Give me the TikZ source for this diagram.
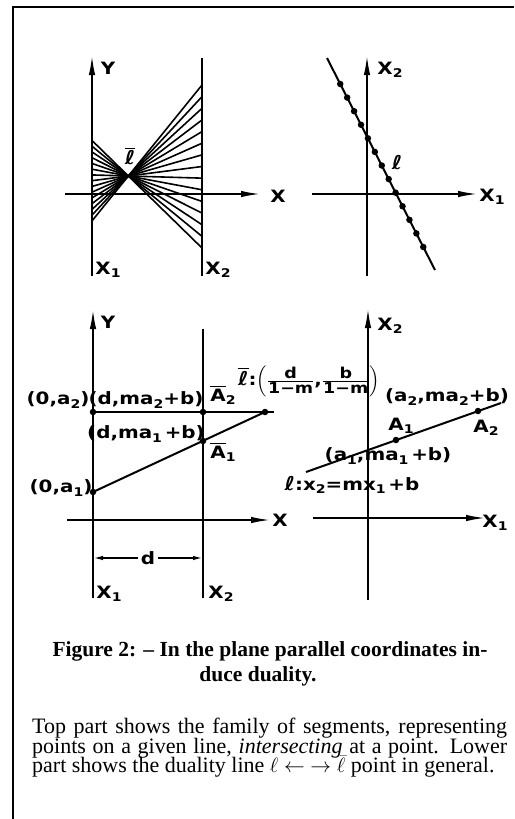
\documentclass[tikz,border=0pt]{standalone}
\usepackage{amsmath}
\usepackage{fontspec}
\usetikzlibrary{arrows.meta}
\setmainfont{Liberation Serif}
\newfontfamily\labf[FakeStretch=1.17]{DejaVu Sans}
\newcommand\lab{\labf\bfseries\fontsize{17}{19}\selectfont}
\newcommand\lo[1]{\raisebox{-0.35ex}{\fontsize{12}{13}\selectfont #1}}
\newcommand\lbar{$\overline{\hbox{ℓ}}$}
\begin{document}
\begin{tikzpicture}[x=1pt,y=-1pt,
  axis/.style={line width=1.6pt},
  arr/.style={-{Latex[length=19pt,width=6.5pt]}},
  dimarr/.style={{Latex[length=10pt,width=4.5pt]}-{Latex[length=10pt,width=4.5pt]}},
  fan/.style={line width=1.6pt},
  thickline/.style={line width=2pt},
  dot/.style={circle,fill,inner sep=0pt,minimum size=6.5pt},
  lbl/.style={font=\lab,inner sep=0pt},
  frame/.style={line width=2pt}]
\useasboundingbox (0,0) rectangle (514,819);
% frame
\coordinate (fa) at (13,819); \coordinate (fb) at (13,7); \coordinate (fc) at (514,7);
\draw[frame] (fa) -- (fb) -- (fc);

% ---------- top left ----------
\coordinate (tY0) at (92,276); \coordinate (tY1) at (92,56);
\coordinate (tQ0) at (202,276); \coordinate (tQ1) at (202,58);
\coordinate (tXa) at (65,194); \coordinate (tXb) at (260,194);
\draw[axis,arr] (tY0) -- (tY1);
\draw[axis] (tQ0) -- (tQ1);
\draw[axis,arr] (tXa) -- (tXb);
\foreach \i in {0,...,14}{
  \pgfmathsetmacro{\yB}{85+\i*163/14}
  \pgfmathsetmacro{\yA}{176-(\yB-176)*0.4933}
  \coordinate (fl\i) at (92,\yA);
  \coordinate (fr\i) at (202,\yB);
  \draw[fan] (fl\i) -- (fr\i);
}
\node[lbl] (tYl) at (108,68) {Y};
\node[lbl] (tXl) at (278,196) {X};
\node[lbl] (tX1l) at (108,270) {X\lo{1}};
\node[lbl] (tX2l) at (218,270) {X\lo{2}};
\node[lbl,font=\lab\fontsize{19}{20}\selectfont] (tlb) at (130,156) {\lbar};

% ---------- top right ----------
\coordinate (rA0) at (367,276); \coordinate (rA1) at (367,56);
\coordinate (rB0) at (312,194); \coordinate (rB1) at (477,194);
\draw[axis,arr] (rA0) -- (rA1);
\draw[axis,arr] (rB0) -- (rB1);
\coordinate (rL0) at (327,58); \coordinate (rL1) at (435,270);
\draw[thickline] (rL0) -- (rL1);
\foreach \i in {0,...,12}{
  \pgfmathsetmacro{\yy}{84+\i*13.5833}
  \pgfmathsetmacro{\xx}{327+(\yy-58)*0.50943}
  \node[dot] (rd\i) at (\xx,\yy) {};
}
\node[lbl] (rX2l) at (390,70) {X\lo{2}};
\node[lbl] (rX1l) at (492,197) {X\lo{1}};
\node[lbl,font=\lab\fontsize{19}{20}\selectfont] (rl) at (397,163) {ℓ};

% ---------- bottom left ----------
\coordinate (bY0) at (93,598); \coordinate (bY1) at (93,310);
\coordinate (bQ0) at (203,598); \coordinate (bQ1) at (203,329);
\coordinate (bXa) at (67,520); \coordinate (bXb) at (270,520);
\draw[axis,arr] (bY0) -- (bY1);
\draw[axis] (bQ0) -- (bQ1);
\draw[axis,arr] (bXa) -- (bXb);
\node[dot] (p0a2) at (93,412) {};
\node[dot] (pA2) at (203,412) {};
\node[dot] (p0a1) at (93,492) {};
\node[dot] (pA1) at (203,441) {};
\node[dot] (plb) at (265,412) {};
\coordinate (hEnd) at (274,412);
\draw[axis] (p0a2.center) -- (hEnd);
\draw[thickline] (p0a1.center) -- (plb.center);
\coordinate (dL) at (93,558); \coordinate (dR) at (203,558);
\draw[axis,dimarr] (dL) -- (dR) node[midway,fill=white,lbl,inner xsep=3pt,inner ysep=1pt] (dlab) {d};
\node[lbl] (bYl) at (108,322) {Y};
\node[lbl] (bXl) at (280,520) {X};
\node[lbl] (bX1l) at (109,594) {X\lo{1}};
\node[lbl] (bX2l) at (221,594) {X\lo{2}};
\node[lbl] (l0a2) at (58,400) {(0,a\lo{2})};
\node[lbl] (ldma2) at (146,400) {(d,ma\lo{2}+b)};
\node[lbl] (lA2b) at (223,395) {$\overline{\hbox{A}}$\lo{2}};
\node[lbl] (ldma1) at (146,434) {(d,ma\lo{1}\,+b)};
\node[lbl] (lA1b) at (223,452) {$\overline{\hbox{A}}$\lo{1}};
\node[lbl] (l0a1) at (61,488) {(0,a\lo{1})};
\node[lbl] (lfrac) at (309,381) {\fontsize{19}{20}\selectfont\lbar\fontsize{17}{19}\selectfont:$\left(\genfrac{}{}{1pt}{}{\hbox{\fontsize{15}{16}\selectfont d}}{\hbox{\fontsize{15}{16}\selectfont 1−m}}\hbox{,}\genfrac{}{}{1pt}{}{\hbox{\fontsize{15}{16}\selectfont b}}{\hbox{\fontsize{15}{16}\selectfont 1−m}}\right)$};

% ---------- bottom right ----------
\coordinate (sA0) at (368,600); \coordinate (sA1) at (368,309);
\coordinate (sB0) at (313,518); \coordinate (sB1) at (485,518);
\draw[axis,arr] (sA0) -- (sA1);
\draw[axis,arr] (sB0) -- (sB1);
\coordinate (sL0) at (306,472); \coordinate (sL1) at (501,403);
\draw[thickline] (sL0) -- (sL1);
\node[dot] (sdA1) at (396,440) {};
\node[dot] (sdA2) at (478,411) {};
\node[lbl] (sX2l) at (390,326) {X\lo{2}};
\node[lbl] (sX1l) at (495,523) {X\lo{1}};
\node[lbl] (sa2) at (447,397) {(a\lo{2},ma\lo{2}+b)};
\node[lbl] (sA2l) at (486,428) {A\lo{2}};
\node[lbl] (sA1l) at (401,426) {A\lo{1}};
\node[lbl] (sa1) at (388,456) {(a\lo{1},ma\lo{1}\,+b)};
\node[lbl] (seq) at (352,485) {{\fontsize{19}{20}\selectfont ℓ}:x\lo{2}=mx\lo{1}\,+b};

% ---------- caption ----------
\node[inner sep=0pt,anchor=base,font=\bfseries\fontsize{21.5}{23}\selectfont] (cap1) at (270,656) {Figure 2: -- In the plane parallel coordinates in-};
\node[inner sep=0pt,anchor=base,font=\bfseries\fontsize{21.5}{23}\selectfont] (cap2) at (258,681) {duce duality.};
\node[inner sep=0pt,anchor=base west,font=\fontsize{22}{23}\selectfont] (par1) at (32,733.5) {\makebox[475pt][s]{Top part shows the family of segments, representing}};
\node[inner sep=0pt,anchor=base west,font=\fontsize{22}{23}\selectfont] (par2) at (32,753) {\makebox[475pt][s]{points on a given line, \textit{intersecting} at a point. Lower}};
\node[inner sep=0pt,anchor=base west,font=\fontsize{22}{23}\selectfont] (par3) at (32,772.5) {part shows the duality line $\ell \leftarrow\ \rightarrow \bar{\ell}$ point in general.};
\end{tikzpicture}
\end{document}
